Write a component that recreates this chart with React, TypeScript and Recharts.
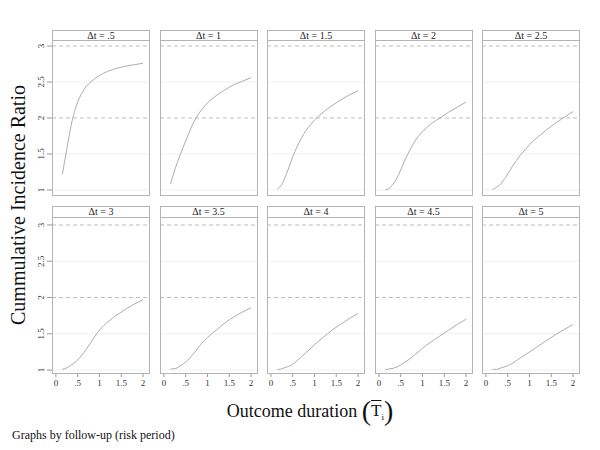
import { LineChart, Line, XAxis, YAxis, ReferenceLine } from "recharts";

const SERIF = "'Liberation Serif', 'Times New Roman', serif";

// outcome duration grid shared by every panel
const durations = [0.15, 0.2, 0.25, 0.3, 0.35, 0.4, 0.5, 0.6, 0.7, 0.8, 0.9, 1.0, 1.2, 1.4, 1.6, 1.8, 2.0];

const deltaLabels = [".5", "1", "1.5", "2", "2.5", "3", "3.5", "4", "4.5", "5"];

const cirDt05 = [1.22, 1.4, 1.57, 1.74, 1.9, 2.03, 2.22, 2.35, 2.44, 2.5, 2.55, 2.59, 2.65, 2.69, 2.72, 2.74, 2.76];
const cirDt10 = [1.08, 1.18, 1.28, 1.37, 1.45, 1.53, 1.68, 1.83, 1.96, 2.06, 2.14, 2.21, 2.31, 2.39, 2.46, 2.51, 2.56];
const cirDt15 = [1.01, 1.04, 1.08, 1.14, 1.21, 1.29, 1.46, 1.6, 1.72, 1.82, 1.9, 1.97, 2.08, 2.17, 2.25, 2.32, 2.38];
const cirDt20 = [1.0, 1.01, 1.03, 1.06, 1.1, 1.15, 1.28, 1.42, 1.54, 1.65, 1.74, 1.81, 1.92, 2.0, 2.08, 2.15, 2.22];
const cirDt25 = [1.01, 1.02, 1.04, 1.06, 1.09, 1.13, 1.22, 1.32, 1.41, 1.49, 1.56, 1.63, 1.74, 1.84, 1.93, 2.01, 2.09];
const cirDt30 = [1.01, 1.02, 1.03, 1.05, 1.07, 1.09, 1.14, 1.21, 1.29, 1.38, 1.47, 1.55, 1.67, 1.76, 1.84, 1.91, 1.97];
const cirDt35 = [1.01, 1.02, 1.02, 1.03, 1.05, 1.07, 1.11, 1.17, 1.24, 1.32, 1.39, 1.45, 1.55, 1.65, 1.73, 1.8, 1.86];
const cirDt40 = [1.01, 1.01, 1.02, 1.03, 1.04, 1.05, 1.08, 1.13, 1.18, 1.24, 1.29, 1.35, 1.45, 1.55, 1.63, 1.71, 1.78];
const cirDt45 = [1.01, 1.01, 1.02, 1.02, 1.03, 1.04, 1.07, 1.11, 1.15, 1.2, 1.25, 1.3, 1.39, 1.47, 1.55, 1.63, 1.7];
const cirDt50 = [1.01, 1.01, 1.01, 1.02, 1.03, 1.04, 1.06, 1.09, 1.13, 1.17, 1.21, 1.25, 1.33, 1.41, 1.49, 1.56, 1.63];

const allSeries = [cirDt05, cirDt10, cirDt15, cirDt20, cirDt25, cirDt30, cirDt35, cirDt40, cirDt45, cirDt50];

const xTicks = [0, 0.5, 1, 1.5, 2];
const yTicks = [1, 1.5, 2, 2.5, 3];
const dashedLevels = [2, 3];
const gridLevels = [1, 1.5, 2.5];

// layout
const PANEL_W = 98;
const COL_STEP = 107.5;
const FIRST_LEFT = 52;
const Y_AXIS_W = 40;
const X_AXIS_H = 24;
const rows = [
  { headerTop: 30, plotTop: 40, plotBottom: 195, domain: [0.93, 3.083] },
  { headerTop: 206, plotTop: 217, plotBottom: 373, domain: [0.96, 3.11] },
];

const fmt = (v: number) => (v < 1 && v > 0 ? String(v).replace(/^0/, "") : String(v));

const YTick = ({ x, y, payload }: any) => (
  <text
    x={x}
    y={y}
    transform={`rotate(-90, ${x}, ${y})`}
    textAnchor="middle"
    fontSize={9}
    fill="#333"
    fontFamily={SERIF}
  >
    {fmt(payload.value)}
  </text>
);

function Panel({ idx }: { idx: number }) {
  const row = Math.floor(idx / 5);
  const col = idx % 5;
  const r = rows[row];
  const showY = col === 0;
  const showX = row === 1;
  const left = FIRST_LEFT + col * COL_STEP;
  const plotH = r.plotBottom - r.plotTop;
  const data = durations.map((d, i) => ({ x: d, y: allSeries[idx][i] }));

  return (
    <>
      <div
        style={{
          position: "absolute",
          left,
          top: r.headerTop,
          width: PANEL_W,
          height: r.plotBottom - r.headerTop + 1,
          border: "1px solid #b4b4b4",
          boxSizing: "border-box",
          pointerEvents: "none",
          zIndex: 2,
        }}
      >
        <div
          style={{
            height: r.plotTop - r.headerTop,
            borderBottom: "1px solid #b4b4b4",
            boxSizing: "border-box",
            textAlign: "center",
            fontSize: 10,
            lineHeight: `${r.plotTop - r.headerTop - 1}px`,
            fontFamily: SERIF,
            color: "#222",
          }}
        >
          Δt = {deltaLabels[idx]}
        </div>
      </div>
      <div style={{ position: "absolute", left: left - (showY ? Y_AXIS_W : 0), top: r.plotTop }}>
        <LineChart
          width={PANEL_W + (showY ? Y_AXIS_W : 0)}
          height={plotH + (showX ? X_AXIS_H : 0)}
          data={data}
          margin={{ top: 0, right: 0, bottom: 0, left: 0 }}
        >
          <XAxis
            dataKey="x"
            type="number"
            domain={[-0.09, 2.16]}
            ticks={xTicks}
            tickFormatter={fmt}
            interval={0}
            hide={!showX}
            height={X_AXIS_H}
            axisLine={false}
            tickSize={4}
            tickMargin={3}
            tickLine={{ stroke: "#999" }}
            tick={{ fontSize: 9, fill: "#333", fontFamily: SERIF }}
            allowDataOverflow
          />
          <YAxis
            type="number"
            domain={r.domain}
            ticks={yTicks}
            interval={0}
            hide={!showY}
            width={Y_AXIS_W}
            axisLine={false}
            tickSize={5}
            tickMargin={3}
            tickLine={{ stroke: "#999" }}
            tick={<YTick />}
            allowDataOverflow
          />
          {gridLevels.map((g) => (
            <ReferenceLine key={g} y={g} stroke="#f1f1f1" strokeWidth={1} />
          ))}
          {dashedLevels.map((g) => (
            <ReferenceLine key={g} y={g} stroke="#bdbdbd" strokeDasharray="4 3" strokeWidth={1} />
          ))}
          <Line
            type="monotone"
            dataKey="y"
            stroke="#a3a3a3"
            strokeWidth={0.9}
            dot={false}
            isAnimationActive={false}
          />
        </LineChart>
      </div>
    </>
  );
}

export default function App() {
  return (
    <div
      style={{
        position: "absolute",
        left: 0,
        top: 0,
        width: 600,
        height: 450,
        background: "#fff",
        fontFamily: SERIF,
        overflow: "hidden",
      }}
    >
      {allSeries.map((_, i) => (
        <Panel key={i} idx={i} />
      ))}
      <div
        style={{
          position: "absolute",
          left: 18,
          top: 205,
          transform: "translate(-50%, -50%) rotate(-90deg)",
          whiteSpace: "nowrap",
          fontSize: 20,
          color: "#111",
        }}
      >
        Cummulative Incidence Ratio
      </div>
      <div
        style={{
          position: "absolute",
          left: 310,
          top: 411,
          transform: "translate(-50%, -50%)",
          whiteSpace: "nowrap",
          fontSize: 18,
          color: "#111",
          display: "flex",
          alignItems: "center",
        }}
      >
        <span>Outcome duration&nbsp;</span>
        <span style={{ fontSize: 28, fontWeight: 200, lineHeight: "28px" }}>(</span>
        <span style={{ textDecoration: "overline", fontSize: 17 }}>T</span>
        <span style={{ fontSize: 9, position: "relative", top: 6 }}>i</span>
        <span style={{ fontSize: 28, fontWeight: 200, lineHeight: "28px" }}>)</span>
      </div>
      <div
        style={{
          position: "absolute",
          left: 12,
          top: 428,
          whiteSpace: "nowrap",
          fontSize: 12,
          color: "#111",
        }}
      >
        Graphs by follow-up (risk period)
      </div>
    </div>
  );
}
